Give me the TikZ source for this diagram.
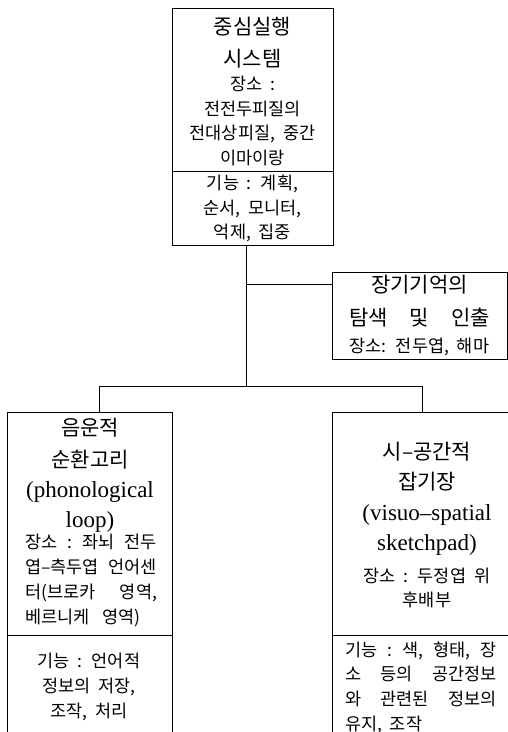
\documentclass[tikz,border=0pt]{standalone}
\usepackage{fontspec}
\setmainfont{Liberation Serif}
\newfontfamily\kr[WordSpace=2]{Noto Sans CJK KR}
\begin{document}
\begin{tikzpicture}[x=1pt,y=-1pt,
  box/.style={draw, line width=0.9pt, inner sep=0pt, anchor=north west},
  conn/.style={line width=0.9pt},
  ttl/.style={font=\kr\fontsize{21}{32}\selectfont, align=center, inner sep=0pt},
  sm/.style={font=\kr\fontsize{17.5}{24.7}\selectfont, align=center, inner sep=0pt},
  lat/.style={font=\fontsize{23}{30}\selectfont, align=center, inner sep=0pt}]
\useasboundingbox (0,0) rectangle (508,732);
\clip (0,0) rectangle (508,732);
\fill[white] (0,0) rectangle (508,732);
% boxes
\node[box, minimum width=161pt, minimum height=237pt] (T) at (172,8) {};
\node[box, minimum width=175pt, minimum height=87pt] (L) at (332,272) {};
\node[box, minimum width=165pt, minimum height=340pt] (P) at (7,412) {};
\node[box, minimum width=180pt, minimum height=340pt] (V) at (332,412) {};
% dividers
\coordinate (d1) at (0,171);
\coordinate (d2) at (0,635);
\draw[conn] (d1 -| T.west) -- (d1 -| T.east);
\draw[conn] (d2 -| P.west) -- (d2 -| P.east);
\draw[conn] (d2 -| V.west) -- (d2 -| V.east);
% connectors
\coordinate (j1) at (246,284);
\coordinate (j2) at (246,386);
\coordinate (pl) at (99,386);
\coordinate (pr) at (422,386);
\draw[conn] (j1 |- T.south) -- (j2);
\draw[conn] (j1) -- (j1 -| L.west);
\draw[conn] (pl |- P.north) -- (pl) -- (pr) -- (pr |- V.north);
% top box text
\node[ttl] (t1) at (252.5,43) {중심실행\\시스템};
\node[sm] (t2) at (252.5,121) {장소 :\\전전두피질의\\전대상피질, 중간\\이마이랑};
\node[sm] (t3) at (252.5,208.5) {기능 : 계획,\\순서, 모니터,\\억제, 집중};
% LTM box text
\node[ttl, font=\kr\fontsize{21}{33}\selectfont] (l1) at (419.5,301.5) {장기기억의\\탐색\hspace{22pt}{}및\hspace{22pt}{}인출};
\node[sm] (l2) at (419.5,347) {장소: 전두엽, 해마};
% phonological loop
\node[ttl] (p1) at (90,444) {음운적\\순환고리};
\node[lat] (p2) at (90,507) {(phonological\\loop)};
\node[sm] (p3) at (91,580.5) {\makebox[132pt][s]{장소\hfill{}:\hfill{}좌뇌\hfill{}전두}\\
  \makebox[132pt][s]{엽–측두엽\hfill{}언어센}\\
  \makebox[132pt][s]{터(브로카\hfill{}영역,}\\
  \makebox[132pt][l]{베르니케\hspace{13pt}{}영역)}};
\node[sm] (p4) at (89,687) {기능 : 언어적\\정보의 저장,\\조작, 처리};
% visuo-spatial sketchpad
\node[ttl, font=\kr\fontsize{21}{30}\selectfont] (v1) at (427,467) {시–공간적\\잡기장};
\node[lat] (v2) at (427,530) {(visuo–spatial\\sketchpad)};
\node[sm] (v3) at (427,588) {장소 : 두정엽 위\\후배부};
\node[sm] (v4) at (421,687.5) {\makebox[152pt][s]{기능\hfill{}:\hfill{}색,\hfill{}형태,\hfill{}장}\\
  \makebox[152pt][s]{소\hfill{}등의\hfill{}공간정보}\\
  \makebox[152pt][s]{와\hfill{}관련된\hfill{}정보의}\\
  \makebox[152pt][l]{유지, 조작}};
\end{tikzpicture}
\end{document}
